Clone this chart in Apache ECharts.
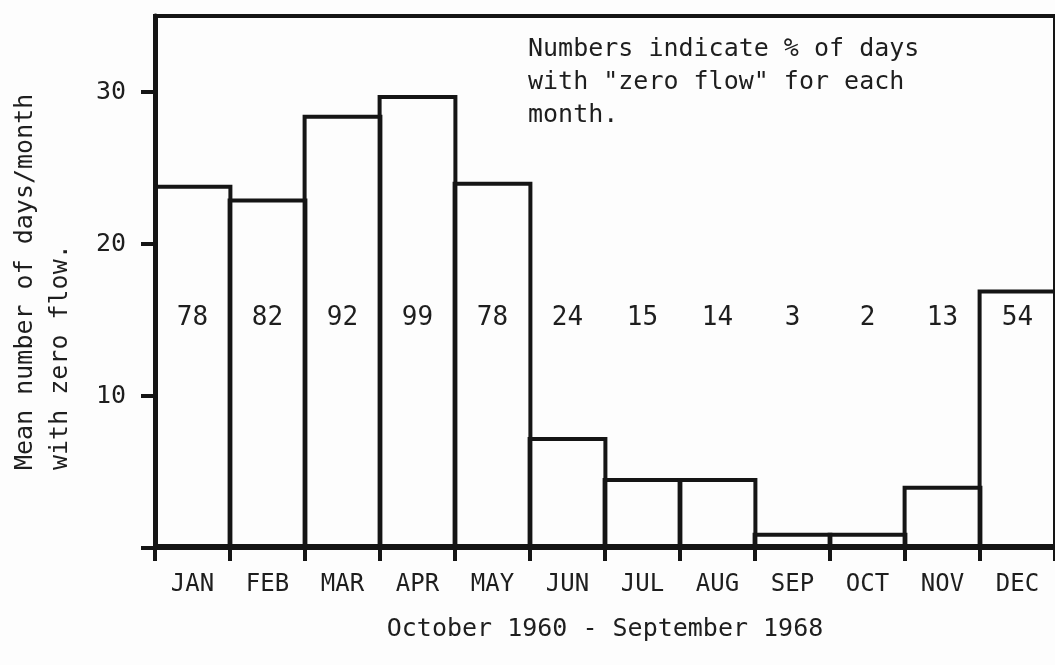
<!DOCTYPE html>
<html>
<head>
<meta charset="utf-8">
<script src="https://cdn.jsdelivr.net/npm/echarts@6/dist/echarts.min.js"></script>
<style>
html,body{margin:0;padding:0;background:#fdfdfd;}
#chart{width:1055px;height:665px;}
</style>
</head>
<body>
<div id="chart"></div>
<script>
const months = ['JAN','FEB','MAR','APR','MAY','JUN','JUL','AUG','SEP','OCT','NOV','DEC'];
const meanZeroFlowDays = [23.9, 23.0, 28.5, 29.8, 24.1, 7.3, 4.6, 4.6, 1.0, 1.0, 4.1, 17.0];
const pctZeroFlowDays = [78, 82, 92, 99, 78, 24, 15, 14, 3, 2, 13, 54];
const yTicks = [0, 10, 20, 30];
const yTickLabels = [10, 20, 30];
const xTitle = 'October 1960 - September 1968';
const yTitle = 'Mean number of days/month\nwith zero flow.';
const note = 'Numbers indicate % of days\nwith "zero flow" for each\nmonth.';

const INK = '#151515';
const TEXT = '#1e1e1e';
const FONT = 'DejaVu Sans Mono';
const LABEL_LEVEL = 15.1;
const BORDER = 4;

const chart = echarts.init(document.getElementById('chart'), null, {renderer: 'canvas'});
chart.setOption({
  backgroundColor: '#fdfdfd',
  animation: false,
  grid: {
    left: 155, right: -10, top: 16, bottom: 117,
    show: true, borderColor: INK, borderWidth: 4, backgroundColor: 'transparent'
  },
  xAxis: {
    type: 'category',
    data: months,
    boundaryGap: true,
    axisLine: {lineStyle: {color: INK, width: 4}},
    axisTick: {show: true, interval: 0, length: 13, lineStyle: {color: INK, width: 4}},
    axisLabel: {interval: 0, margin: 25, color: TEXT, fontFamily: FONT, fontSize: 24},
    name: xTitle,
    nameLocation: 'middle',
    nameGap: 69,
    nameTextStyle: {color: TEXT, fontFamily: FONT, fontSize: 25}
  },
  yAxis: {
    type: 'value',
    min: 0, max: 35, interval: 10,
    splitLine: {show: false},
    axisLine: {show: true, lineStyle: {color: INK, width: 5}},
    axisTick: {show: true, length: 14, customValues: yTicks, lineStyle: {color: INK, width: 4}},
    axisLabel: {customValues: yTickLabels, margin: 29, color: TEXT, fontFamily: FONT, fontSize: 25}
  },
  series: [
    {
      type: 'bar',
      data: meanZeroFlowDays,
      barWidth: 75.8 + BORDER,
      itemStyle: {color: 'rgba(0,0,0,0)', borderColor: INK, borderWidth: BORDER},
      z: 3
    },
    {
      type: 'scatter',
      data: pctZeroFlowDays.map((p, i) => [months[i], LABEL_LEVEL, p]),
      symbolSize: 0,
      itemStyle: {color: INK},
      label: {
        show: true, position: 'inside',
        formatter: p => String(p.value[2]),
        color: TEXT, textBorderWidth: 0, opacity: 1,
        fontFamily: FONT, fontSize: 26
      },
      silent: true,
      z: 4
    }
  ],
  graphic: [
    {
      type: 'text', left: 528, top: 33,
      style: {text: note, fill: TEXT, font: '25px "DejaVu Sans Mono"', lineHeight: 33}
    },
    {
      type: 'text', x: 8, y: 470, rotation: Math.PI / 2,
      style: {text: yTitle, fill: TEXT, font: '25px "DejaVu Sans Mono"', lineHeight: 35,
              textAlign: 'left', textVerticalAlign: 'top'}
    }
  ]
});
</script>
</body>
</html>
